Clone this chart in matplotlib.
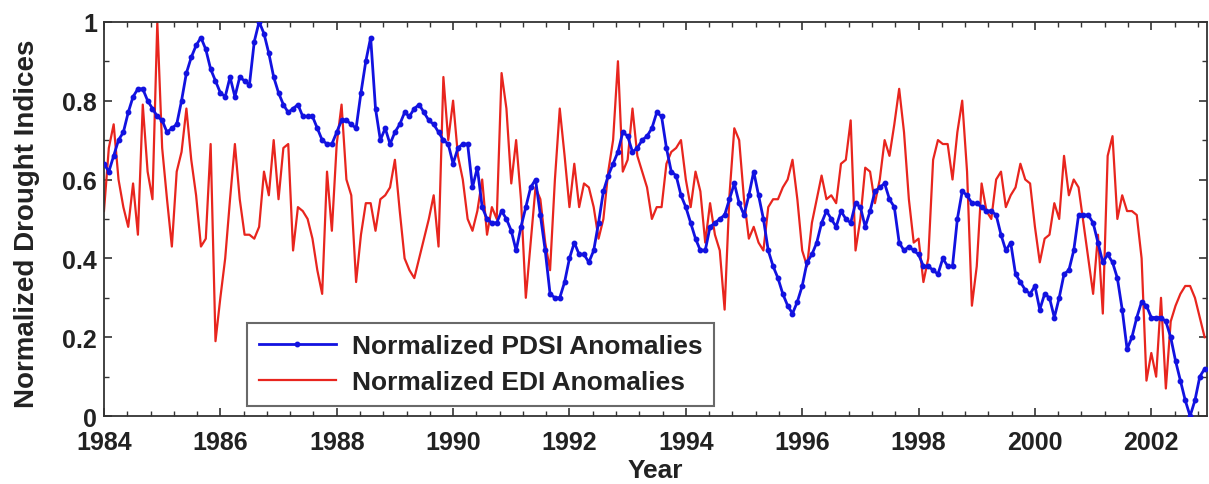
import numpy as np
import matplotlib
matplotlib.use("Agg")
import matplotlib.pyplot as plt
from matplotlib.ticker import MultipleLocator

plt.rcParams['font.family'] = ['Liberation Sans', 'DejaVu Sans']

# monthly values, Jan 1984 .. Dec 2002
pdsi = [
    0.64, 0.62, 0.66, 0.70, 0.72, 0.77, 0.81, 0.83, 0.83, 0.80, 0.78, 0.76,  # 1984
    0.75, 0.72, 0.73, 0.74, 0.80, 0.87, 0.91, 0.94, 0.96, 0.93, 0.88, 0.85,  # 1985
    0.82, 0.81, 0.86, 0.81, 0.86, 0.85, 0.84, 0.95, 1.00, 0.97, 0.92, 0.86,  # 1986
    0.82, 0.79, 0.77, 0.78, 0.79, 0.76, 0.76, 0.76, 0.73, 0.70, 0.69, 0.69,  # 1987
    0.72, 0.75, 0.75, 0.74, 0.73, 0.82, 0.90, 0.96, 0.78, 0.70, 0.73, 0.69,  # 1988
    0.72, 0.74, 0.77, 0.76, 0.78, 0.79, 0.77, 0.75, 0.74, 0.72, 0.70, 0.69,  # 1989
    0.64, 0.68, 0.69, 0.69, 0.58, 0.63, 0.53, 0.50, 0.49, 0.49, 0.52, 0.50,  # 1990
    0.47, 0.42, 0.48, 0.53, 0.58, 0.60, 0.51, 0.42, 0.31, 0.30, 0.30, 0.34,  # 1991
    0.40, 0.44, 0.41, 0.41, 0.39, 0.42, 0.49, 0.57, 0.61, 0.64, 0.67, 0.72,  # 1992
    0.71, 0.67, 0.68, 0.70, 0.71, 0.73, 0.77, 0.76, 0.68, 0.62, 0.61, 0.56,  # 1993
    0.53, 0.49, 0.45, 0.42, 0.42, 0.48, 0.49, 0.50, 0.51, 0.55, 0.59, 0.54,  # 1994
    0.51, 0.56, 0.62, 0.56, 0.50, 0.42, 0.38, 0.35, 0.31, 0.28, 0.26, 0.29,  # 1995
    0.33, 0.39, 0.41, 0.44, 0.49, 0.52, 0.50, 0.48, 0.52, 0.50, 0.49, 0.54,  # 1996
    0.53, 0.48, 0.52, 0.57, 0.58, 0.59, 0.55, 0.53, 0.44, 0.42, 0.43, 0.42,  # 1997
    0.41, 0.38, 0.38, 0.37, 0.36, 0.40, 0.38, 0.38, 0.50, 0.57, 0.56, 0.54,  # 1998
    0.54, 0.53, 0.52, 0.52, 0.51, 0.46, 0.42, 0.44, 0.36, 0.34, 0.32, 0.31,  # 1999
    0.33, 0.27, 0.31, 0.30, 0.25, 0.30, 0.36, 0.37, 0.42, 0.51, 0.51, 0.51,  # 2000
    0.49, 0.44, 0.39, 0.41, 0.39, 0.35, 0.27, 0.17, 0.20, 0.25, 0.29, 0.28,  # 2001
    0.25, 0.25, 0.25, 0.24, 0.20, 0.14, 0.09, 0.04, 0.00, 0.04, 0.10, 0.12,  # 2002
]

edi = [
    0.52, 0.68, 0.74, 0.60, 0.53, 0.48, 0.59, 0.46, 0.79, 0.62, 0.55, 1.00,  # 1984
    0.68, 0.55, 0.43, 0.62, 0.67, 0.78, 0.65, 0.56, 0.43, 0.45, 0.69, 0.19,  # 1985
    0.30, 0.40, 0.55, 0.69, 0.55, 0.46, 0.46, 0.45, 0.48, 0.62, 0.56, 0.70,  # 1986
    0.55, 0.68, 0.69, 0.42, 0.53, 0.52, 0.50, 0.45, 0.37, 0.31, 0.62, 0.47,  # 1987
    0.69, 0.79, 0.60, 0.56, 0.34, 0.46, 0.54, 0.54, 0.47, 0.55, 0.56, 0.58,  # 1988
    0.65, 0.52, 0.40, 0.37, 0.35, 0.40, 0.45, 0.50, 0.56, 0.43, 0.86, 0.70,  # 1989
    0.80, 0.66, 0.60, 0.50, 0.47, 0.52, 0.60, 0.46, 0.53, 0.50, 0.87, 0.78,  # 1990
    0.59, 0.70, 0.55, 0.30, 0.44, 0.58, 0.55, 0.44, 0.37, 0.60, 0.78, 0.66,  # 1991
    0.53, 0.64, 0.53, 0.59, 0.58, 0.53, 0.45, 0.50, 0.62, 0.70, 0.90, 0.62,  # 1992
    0.65, 0.78, 0.66, 0.62, 0.58, 0.50, 0.53, 0.53, 0.64, 0.67, 0.68, 0.70,  # 1993
    0.60, 0.53, 0.62, 0.57, 0.44, 0.54, 0.46, 0.42, 0.27, 0.56, 0.73, 0.70,  # 1994
    0.55, 0.45, 0.48, 0.44, 0.42, 0.53, 0.55, 0.55, 0.58, 0.60, 0.65, 0.55,  # 1995
    0.42, 0.38, 0.49, 0.55, 0.61, 0.55, 0.56, 0.54, 0.64, 0.65, 0.75, 0.42,  # 1996
    0.50, 0.63, 0.62, 0.54, 0.60, 0.70, 0.66, 0.74, 0.83, 0.72, 0.55, 0.44,  # 1997
    0.45, 0.34, 0.40, 0.65, 0.70, 0.69, 0.69, 0.60, 0.72, 0.80, 0.62, 0.28,  # 1998
    0.38, 0.59, 0.52, 0.50, 0.60, 0.62, 0.53, 0.56, 0.58, 0.64, 0.60, 0.59,  # 1999
    0.48, 0.39, 0.45, 0.46, 0.54, 0.50, 0.66, 0.56, 0.60, 0.58, 0.49, 0.40,  # 2000
    0.31, 0.46, 0.26, 0.66, 0.71, 0.50, 0.56, 0.52, 0.52, 0.51, 0.40, 0.09,  # 2001
    0.16, 0.10, 0.30, 0.07, 0.24, 0.28, 0.31, 0.33, 0.33, 0.30, 0.25, 0.20,  # 2002
]

years = 1984 + np.arange(len(pdsi)) / 12.0

fig = plt.figure(figsize=(12.09, 4.85), dpi=100)
ax = fig.add_axes([0.086, 0.140, 0.912, 0.813])

ax.plot(years, edi, color='#e8251e', lw=1.6, label='Normalized EDI Anomalies', zorder=2)
ax.plot(years, pdsi, color='#1212e0', lw=2.0, marker='o', ms=3.2,
        label='Normalized PDSI Anomalies', zorder=3)

ax.set_xlim(1984, 2002.95)
ax.set_ylim(0, 1)
ax.xaxis.set_major_locator(MultipleLocator(2))
ax.xaxis.set_minor_locator(MultipleLocator(0.4))
ax.yaxis.set_minor_locator(MultipleLocator(0.1))
ax.set_yticks([0, 0.2, 0.4, 0.6, 0.8, 1])
ax.set_yticklabels(['0', '0.2', '0.4', '0.6', '0.8', '1'])
ax.tick_params(which='both', direction='in', top=True, right=True, colors='#333333',
               labelcolor='#222222', labelsize=18)
ax.tick_params(which='major', length=6, width=1.2)
ax.tick_params(which='minor', length=3.5, width=1.0)
ax.tick_params(axis='x', pad=10)
ax.tick_params(axis='y', pad=5)
for lab in ax.get_xticklabels() + ax.get_yticklabels():
    lab.set_fontweight('bold')
for s in ax.spines.values():
    s.set_color('#333333')
    s.set_linewidth(1.3)

ax.set_xlabel('Year', fontsize=19, fontweight='bold', color='#222222', labelpad=3)
ax.set_ylabel('Normalized Drought Indices', fontsize=20, fontweight='bold', color='#222222')
ax.yaxis.set_label_coords(-0.058, 0.49)

handles, labels = ax.get_legend_handles_labels()
leg = ax.legend(handles[::-1], labels[::-1], loc='lower left', bbox_to_anchor=(0.13, 0.025),
                prop={'size': 19, 'weight': 'bold'}, frameon=True, fancybox=False,
                handlelength=2.9, borderpad=0.45, labelspacing=0.45, handletextpad=0.6,
                borderaxespad=0)
leg.get_frame().set_edgecolor('#444444')
leg.get_frame().set_linewidth(1.5)
for t in leg.get_texts():
    t.set_color('#222222')

fig.savefig('out.png', dpi=100)
